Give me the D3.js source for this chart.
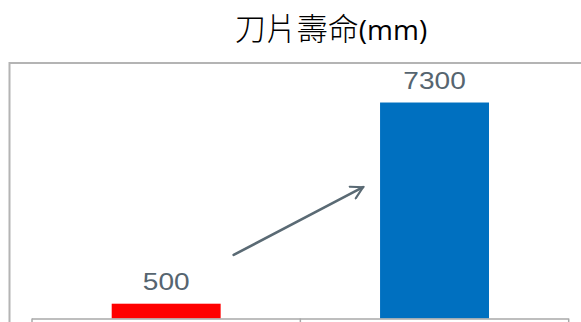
<!DOCTYPE html>
<html>
<head>
<meta charset="utf-8">
<script src="https://cdn.jsdelivr.net/npm/d3@7"></script>
<style>
  body { margin: 0; background: #fff; }
  svg { display: block; }
</style>
</head>
<body>
<svg width="581" height="322"></svg>
<script>
const titleMain = "刀片壽命";
const titleUnit = "(mm)";
const categories = ["before", "after"];
const values = [500, 7300];
const colors = ["#ff0000", "#0070c0"];
// arrow annotation in data units (from value -> to value)
const arrowFrom = 2150;
const arrowTo = 4440;

const svg = d3.select("svg");

// outer frame (cut off at right and bottom)
svg.append("path")
    .attr("d", "M9.5,330 V63 H590")
    .attr("fill", "none")
    .attr("stroke", "#b4b4b4")
    .attr("stroke-width", 2);

// title
const t = svg.append("text")
    .attr("x", 331)
    .attr("y", 40)
    .attr("text-anchor", "middle")
    .attr("fill", "#000");
t.append("tspan")
    .style("font-family", "'Noto Sans CJK TC', sans-serif")
    .style("font-weight", 300)
    .style("font-size", "31px")
    .text(titleMain);
t.append("tspan")
    .style("font-family", "'Open Sans', 'Noto Sans', sans-serif")
    .style("font-size", "28px")
    .text(titleUnit);

const x = d3.scaleBand()
    .domain(categories)
    .range([32, 568.7])
    .paddingInner(0.594)
    .paddingOuter(0.297);

const y = d3.scaleLinear()
    .domain([0, 8000])
    .range([318.5, 81.8]);

// bars
svg.selectAll("rect.bar")
    .data(categories)
    .join("rect")
    .attr("class", "bar")
    .attr("x", d => x(d))
    .attr("width", x.bandwidth())
    .attr("y", (d, i) => y(values[i]))
    .attr("height", (d, i) => y(0) - y(values[i]))
    .attr("fill", (d, i) => colors[i]);

// value labels
svg.selectAll("text.lbl")
    .data(categories)
    .join("text")
    .attr("class", "lbl")
    .attr("transform", (d, i) => `translate(${x(d) + x.bandwidth() / 2},${y(values[i]) - 14}) scale(1.22,1)`)
    .attr("text-anchor", "middle")
    .style("font-family", "'Liberation Sans', Arial, sans-serif")
    .style("font-size", "23px")
    .attr("fill", "#566570")
    .text((d, i) => values[i]);

// x axis: line with ticks at band boundaries
const axisY = y(0);
const step = x.step();
const edges = [x.range()[0], x.range()[0] + step, x.range()[1]];
svg.append("line")
    .attr("x1", edges[0]).attr("x2", edges[2])
    .attr("y1", axisY + 0.5).attr("y2", axisY + 0.5)
    .attr("stroke", "#a8a8a8")
    .attr("stroke-width", 1.5);
svg.selectAll("line.tick")
    .data(edges)
    .join("line")
    .attr("class", "tick")
    .attr("x1", d => d).attr("x2", d => d)
    .attr("y1", axisY).attr("y2", axisY + 6)
    .attr("stroke", "#a8a8a8")
    .attr("stroke-width", 1.5);

// arrow
svg.append("defs").append("marker")
    .attr("id", "head")
    .attr("viewBox", "0 0 12 12")
    .attr("refX", 10).attr("refY", 6)
    .attr("markerWidth", 6).attr("markerHeight", 6)
    .attr("markerUnits", "strokeWidth")
    .attr("orient", "auto")
    .append("path")
    .attr("d", "M1,1 L10,6 L1,11")
    .attr("fill", "none")
    .attr("stroke", "#5a6a74")
    .attr("stroke-width", 1.6)
    .attr("stroke-linecap", "round");

svg.append("line")
    .attr("x1", x(categories[0]) + x.bandwidth() + 13)
    .attr("y1", y(arrowFrom))
    .attr("x2", x(categories[1]) - 17)
    .attr("y2", y(arrowTo))
    .attr("stroke", "#5a6a74")
    .attr("stroke-width", 2.6)
    .attr("stroke-linecap", "round")
    .attr("marker-end", "url(#head)");
</script>
</body>
</html>
